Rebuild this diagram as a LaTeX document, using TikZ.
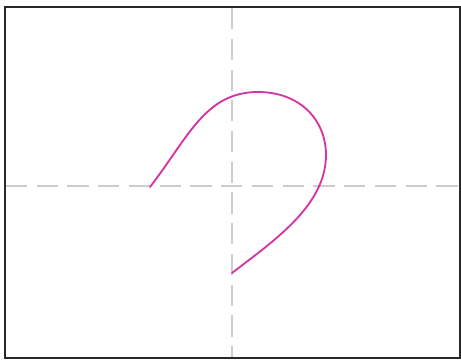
\documentclass[tikz,border=0pt]{standalone}
\usepackage{xcolor}
\definecolor{curveMagenta}{RGB}{214, 52, 162}
\definecolor{axisGray}{RGB}{205, 205, 205}
\definecolor{frameDark}{RGB}{40, 40, 40}
\usepackage{tikz}
\usetikzlibrary{calc}

\begin{document}
\begin{tikzpicture}[
    x=0.02cm, y=-0.02cm,
    frameLine/.style={
        draw=frameDark, line width=1.6pt
    },
    axisLine/.style={
        draw=axisGray, line width=1.1pt,
        dash pattern=on 12pt off 5.5pt
    },
    curveLine/.style={
        draw=curveMagenta, line width=1.05pt, line cap=round
    }
]

    % Canvas
    \useasboundingbox (0, 0) rectangle (461, 360);
    \fill[white] (0, 0) rectangle (461, 360);

    % Axes
    \coordinate (axisTop) at (232, 8);
    \coordinate (axisBottom) at (232, 357);
    \coordinate (axisLeft) at (6, 186);
    \coordinate (axisRight) at (459, 186);
    \draw[axisLine] (axisTop) -- (axisBottom);
    \draw[axisLine] (axisLeft) -- (axisRight);

    % Curve
    \coordinate (startPt) at (150, 187);
    \coordinate (topPt) at (258, 92);
    \coordinate (rightPt) at (326, 155);
    \coordinate (endPt) at (232, 273);
    \draw[curveLine] (startPt)
        .. controls (188, 138) and (205, 92) .. (topPt)
        .. controls (300, 92) and (326, 120) .. (rightPt)
        .. controls (326, 205) and (275, 240) .. (endPt);

    % Frame
    \draw[frameLine] (5, 7) rectangle (460, 358);

\end{tikzpicture}
\end{document}
